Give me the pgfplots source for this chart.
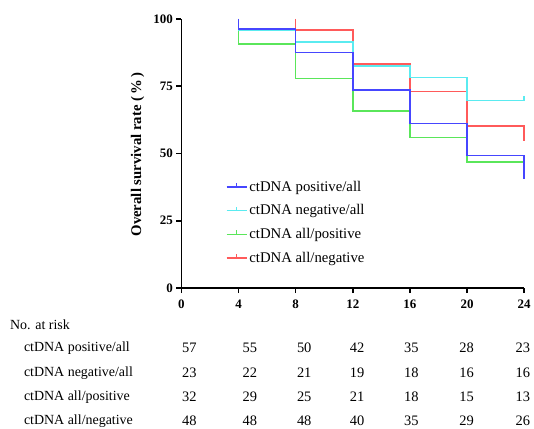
\documentclass[border=0pt]{standalone}
\usepackage{fontspec}
\setmainfont{Liberation Serif}
\usepackage{pgfplots}
\pgfplotsset{compat=1.18}
\definecolor{cblue}{RGB}{70,70,255}
\definecolor{ccyan}{RGB}{90,235,240}
\definecolor{cgreen}{RGB}{90,230,90}
\definecolor{cred}{RGB}{255,90,90}
\newcommand{\riskcol}[5]{%
  \node at (axis cs:#1,-22.2) {#2};
  \node at (axis cs:#1,-31.5) {#3};
  \node at (axis cs:#1,-40.4) {#4};
  \node at (axis cs:#1,-49.3) {#5};}
\newcommand{\tickfont}{\fontsize{13bp}{15bp}\selectfont\bfseries}
\newcommand{\labfont}{\fontsize{14.8bp}{17bp}\selectfont\bfseries}
\newcommand{\legfont}{\fontsize{14.8bp}{17bp}\selectfont}
\begin{document}
\begin{tikzpicture}
\begin{axis}[
  width=344bp, height=270bp, scale only axis,
  xmin=0, xmax=24, ymin=0, ymax=100,
  axis x line=bottom, axis y line=left,
  axis line style={-, line width=1.6bp, black},
  xtick={0,4,8,12,16,20,24},
  ytick={0,25,50,75,100},
  tick style={black, line width=1.6bp},
  tick align=outside,
  major tick length=5bp,
  /pgf/number format/assume math mode=true,
  ticklabel style={font=\tickfont},
  xticklabel style={yshift=-3bp},
  ylabel={Overall survival rate (\,\%\,)},
  ylabel style={font=\labfont, at={(axis description cs:-0.128,0.497)}, anchor=center},
  clip=false,
  reverse legend,
  legend cell align=left,
  legend style={at={(axis cs:2.9,41.3)}, anchor=north west, draw=none, fill=none,
    nodes={font=\legfont}, row sep=8bp},
  legend image code/.code={\draw[#1, line width=1.5bp] (0bp,0bp) -- (20bp,0bp); \draw[#1, line width=1.5bp] (10bp,0bp) -- (10bp,4bp);},
  every axis plot/.append style={line width=1.5bp},
]
\addplot[cred] coordinates {(8,100)(8,95.8)(12,95.8)(12,83.2)(16,83.2)(16,73.1)(20,73.1)(20,60.2)(24,60.2)(24,54.6)};
\addlegendentry{ctDNA all/negative}
\addplot[cgreen] coordinates {(4,100)(4,90.6)(8,90.6)(8,77.8)(12,77.8)(12,65.7)(16,65.7)(16,56)(20,56)(20,46.8)(24,46.8)};
\addlegendentry{ctDNA all/positive}
\addplot[ccyan] coordinates {(4,100)(4,95.9)(8,95.9)(8,91.4)(12,91.4)(12,82.6)(16,82.6)(16,78.3)(20,78.3)(20,69.7)(24,69.7)(24,71.5)};
\addlegendentry{ctDNA negative/all}
\addplot[cblue] coordinates {(4,100)(4,96.3)(8,96.3)(8,87.5)(12,87.5)(12,73.5)(16,73.5)(16,61.2)(20,61.2)(20,49.3)(24,49.3)(24,40.7)};
\addlegendentry{ctDNA positive/all}
\coordinate (O) at (rel axis cs:0,0);
% risk table
\begin{scope}[every node/.style={font=\fontsize{14bp}{16bp}\selectfont, inner sep=0pt}]
\node[anchor=west] at (axis cs:-12.0,-13.7) {No. at risk};
\node[anchor=west] at (axis cs:-11.03,-22.2) {ctDNA positive/all};
\node[anchor=west] at (axis cs:-11.03,-31.5) {ctDNA negative/all};
\node[anchor=west] at (axis cs:-11.03,-40.4) {ctDNA all/positive};
\node[anchor=west] at (axis cs:-11.03,-49.3) {ctDNA all/negative};
\end{scope}
\begin{scope}[every node/.style={font=\fontsize{14.5bp}{16bp}\selectfont, inner sep=0pt}]
\riskcol{0.56}{57}{23}{32}{48}
\riskcol{4.8}{55}{22}{29}{48}
\riskcol{8.6}{50}{21}{25}{48}
\riskcol{12.3}{42}{19}{21}{40}
\riskcol{16.1}{35}{18}{18}{35}
\riskcol{19.96}{28}{16}{15}{29}
\riskcol{23.9}{23}{16}{13}{26}
\end{scope}
\end{axis}
\path (O) ++(-182bp,-141bp) rectangle ++(534bp,430bp);
\end{tikzpicture}
\end{document}
